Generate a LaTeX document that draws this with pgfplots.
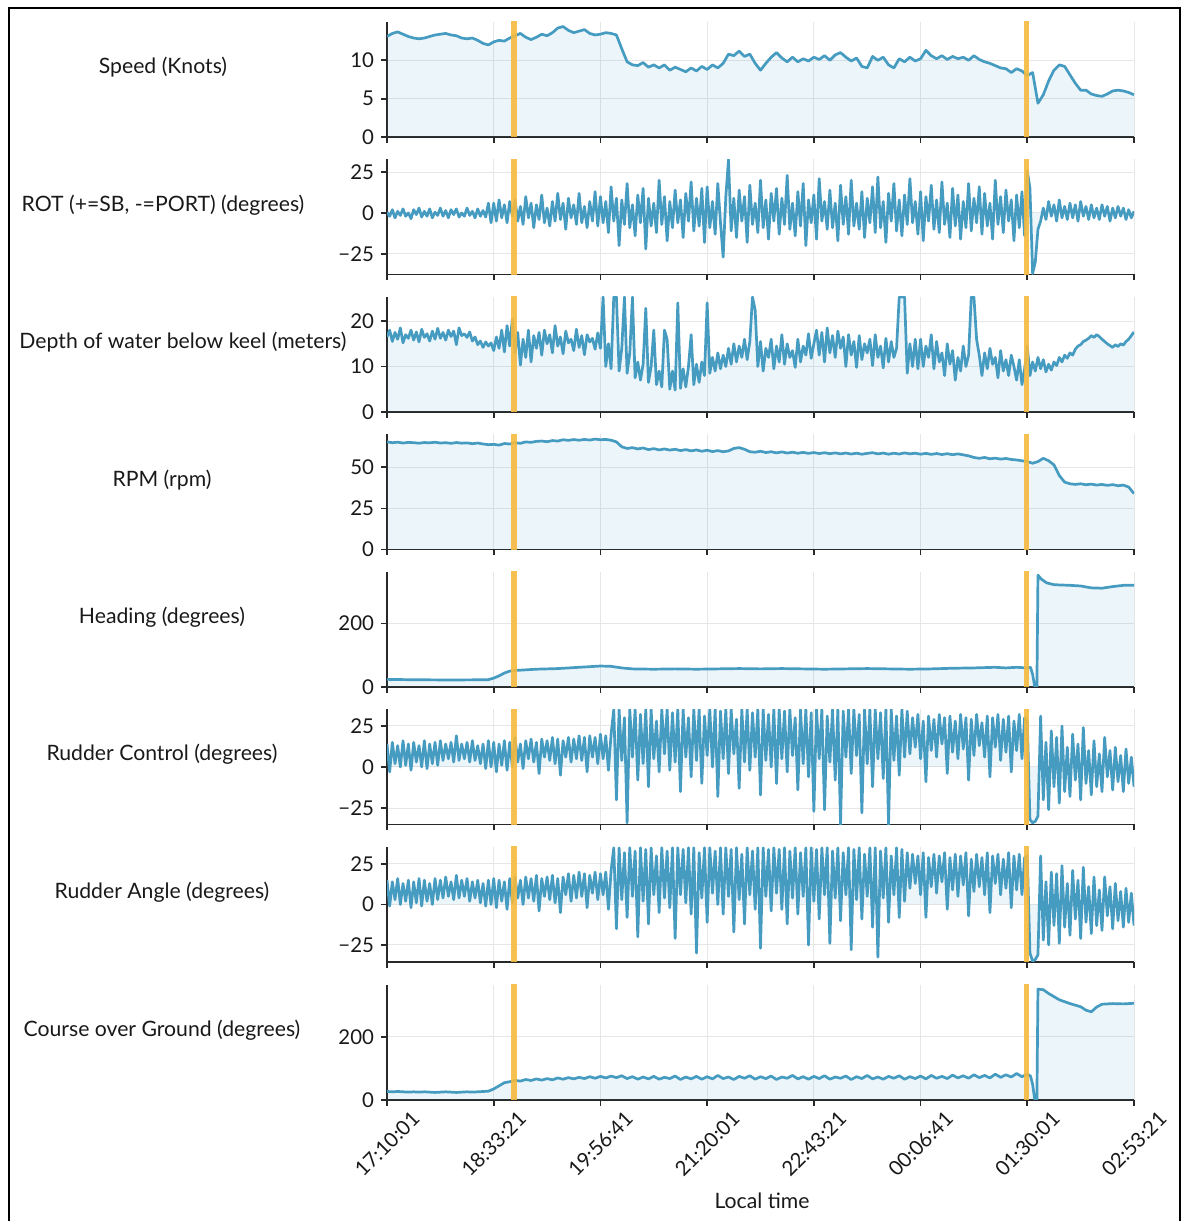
\documentclass[border=0pt]{standalone}
\usepackage{fontspec}
\setmainfont{Lato}
\usepackage{pgfplots}
\usepackage{pgfplotstable}
\pgfplotsset{compat=1.18}
\definecolor{linecol}{RGB}{70,155,192}
\definecolor{orangecol}{RGB}{246,186,62}
\definecolor{gridcol}{RGB}{230,230,230}
\definecolor{axcol}{RGB}{40,40,40}
\definecolor{txtcol}{RGB}{25,25,25}
\pgfplotsset{
 panel/.style={
  scale only axis, width=373.5pt, height=57.5pt,
  anchor=south west,
  xmin=0, xmax=7, xtick={0,1,2,3,4,5,6,7},
  axis x line*=bottom, axis y line*=left,
  axis line style={draw=axcol, line width=0.9pt},
  tick align=outside, major tick length=3pt,
  every tick/.style={draw=axcol, line width=0.9pt},
  grid=major, grid style={draw=gridcol, line width=0.5pt},
  xticklabels={},
  /pgf/number format/assume math mode=true,
  tick label style={font=\fontsize{10.2}{12}\selectfont, text=txtcol},
 },
 fillp/.style={fill=linecol, fill opacity=0.1, draw=none, mark=none},
 linep/.style={draw=linecol, line width=1.35pt, mark=none, line join=round},
 orangep/.style={draw=orangecol, line width=2.6pt, opacity=0.9, mark=none},
}
\begin{document}
\pgfplotstableread[row sep=\\]{v\\
13.1\\13.5\\13.7\\13.4\\13.1\\12.9\\12.8\\12.9\\13.1\\13.3\\13.4\\13.5\\13.3\\13.2\\12.9\\12.8\\12.9\\12.6\\12.2\\12.0\\
12.4\\12.6\\12.5\\12.9\\13.2\\13.5\\13.0\\12.7\\13.0\\13.4\\13.2\\13.6\\14.2\\14.4\\13.9\\13.6\\13.8\\14.0\\13.5\\13.3\\
13.4\\13.6\\13.5\\13.3\\11.5\\9.8\\9.4\\9.3\\9.7\\9.1\\9.4\\9.0\\9.4\\8.7\\9.1\\8.8\\8.5\\9.0\\8.6\\9.2\\
8.8\\9.4\\9.0\\9.6\\10.8\\10.6\\11.2\\10.5\\10.8\\9.6\\8.7\\9.6\\10.4\\11.0\\10.3\\9.8\\10.4\\9.8\\10.2\\9.9\\
10.4\\10.1\\10.6\\10.0\\10.7\\11.0\\10.4\\9.9\\10.3\\9.2\\9.0\\10.5\\10.0\\10.4\\9.4\\9.0\\10.2\\9.8\\10.4\\9.9\\
10.2\\11.3\\10.6\\10.2\\10.6\\10.1\\10.5\\10.2\\10.4\\10.0\\10.6\\10.1\\9.8\\9.6\\9.3\\9.0\\8.9\\8.4\\8.9\\8.6\\
8.0\\8.4\\4.4\\5.5\\7.3\\8.7\\9.4\\9.2\\8.1\\7.0\\6.1\\6.1\\5.6\\5.4\\5.3\\5.6\\6.0\\6.1\\6.0\\5.8\\5.5\\
}\speed
\pgfplotstableread[row sep=\\]{v\\
0.5\\-2\\2\\-3\\1\\-1.5\\2.5\\-2\\0\\-3.5\\2\\-1\\3\\-2.5\\1\\-2\\2.5\\-3\\0.5\\-1.5\\
3\\-2\\1.5\\-3\\2\\-1\\2.5\\-2.5\\0\\-2\\3\\-1.5\\1\\-3\\2.5\\-2\\1.5\\-2.5\\6\\-6\\
6\\-5\\8\\-3\\5\\-6\\7\\-2\\
8\\-5\\4\\-7\\10\\-3\\6\\-9\\5\\-4\\11\\-6\\3\\-8\\7\\-5\\12\\-4\\6\\-10\\9\\-3\\5\\-7\\12\\-6\\4\\-9\\7\\-5\\13\\-8\\
10\\-6\\7\\-12\\16\\-5\\9\\-20\\8\\-7\\18\\-9\\5\\-14\\11\\-6\\15\\-22\\9\\-8\\
6\\-12\\20\\-7\\10\\-17\\7\\-9\\14\\-6\\8\\-15\\12\\-5\\19\\-11\\9\\-8\\15\\-18\\
16\\-9\\7\\-13\\18\\-6\\-27\\10\\32.7\\-11\\9\\-15\\14\\-5\\10\\-18\\17\\-7\\6\\-12\\
20\\-9\\8\\-16\\12\\-5\\15\\-13\\9\\-7\\23\\-10\\6\\-14\\13\\-8\\18\\-20\\8\\-6\\
11\\-16\\21\\-5\\7\\-10\\14\\-9\\6\\-17\\17\\-7\\10\\-13\\20\\-8\\6\\-10\\13\\-15\\
9\\-6\\16\\-12\\22\\-9\\7\\-18\\12\\-5\\18\\-11\\8\\-14\\11\\-7\\21\\-6\\7\\-13\\
13\\-17\\10\\-5\\17\\-10\\8\\-12\\19\\-7\\6\\-15\\15\\-8\\11\\-16\\7\\-9\\18\\-11\\
9\\-6\\16\\-13\\12\\-8\\6\\-16\\20\\-7\\10\\-12\\14\\-5\\8\\-17\\11\\-9\\13\\-14\\
26\\15\\-37\\-30\\-10\\-5\\
3\\-4\\7\\-2\\5\\-5\\8\\-3\\4\\-4\\6\\-3\\5\\-5\\7\\-2\\4\\-4\\5\\-3\\
3\\-4\\5\\-2\\4\\-5\\3\\-3\\4\\-2\\3\\-4\\2\\-3\\1\\
}\rot
\pgfplotstableread[row sep=\\]{v\\
16.5\\18\\15.5\\17.5\\16\\18.5\\15.2\\17\\16.2\\18\\15.8\\17.6\\15.4\\18.2\\16.4\\17.2\\15.6\\17.8\\16\\18.4\\
16.2\\17.5\\15.8\\18\\16.6\\17.8\\14.8\\18.5\\16.8\\17.2\\16.4\\17.6\\15.6\\16.5\\14.8\\15.6\\14.2\\15.4\\14.5\\15.2\\
13.5\\16.5\\14\\18\\13.2\\19\\14.5\\20.5\\13\\17.5\\10.3\\16\\12\\18\\11\\16.8\\
14\\17.5\\12.5\\18\\15\\17\\13\\19\\14.5\\16.5\\12.8\\17.8\\15.2\\16\\13.5\\18.2\\14.2\\16.8\\12.6\\17\\15.4\\16.2\\13.8\\17.4\\
14\\25.3\\10\\15\\9.5\\25.3\\25.3\\9\\14\\25.3\\8.5\\13\\25.3\\7.5\\11\\7\\10.5\\22.8\\6.5\\10\\
18\\6\\9\\5.5\\18\\16\\5\\9\\4.8\\24\\5.2\\9.5\\5.5\\10\\17\\6\\10.5\\6.5\\11\\8\\
24\\8.5\\12\\9\\13\\9.5\\12.5\\10\\14\\10.5\\15\\11\\14.5\\12\\16\\11.5\\15.5\\25.3\\22.4\\10\\
15.5\\9\\14\\12\\16\\9.5\\14.5\\11\\17\\10.5\\15\\12\\13.5\\9.8\\16\\11\\14.5\\12.5\\17.2\\11.8\\
15\\18\\12.5\\17.5\\11\\18.5\\13\\16.8\\12\\17.8\\14\\16.5\\10\\17\\12.5\\15.5\\9.8\\16.8\\11.5\\15\\
13\\16\\10.2\\17\\12\\14.5\\9.7\\16.2\\11\\15.5\\12\\14\\25.3\\25.3\\25.3\\8.5\\15\\10\\16\\9.5\\
16\\10\\14.5\\12\\17\\9.5\\15.5\\11\\13\\8\\15\\10.5\\13.5\\7\\12\\9\\14.5\\10\\12.5\\25.3\\
25.3\\16\\12.5\\8\\13\\9.5\\14\\10.5\\12\\7.5\\13.5\\9\\11.5\\8\\12.5\\10\\7\\11.5\\6\\9.5\\
14.5\\8\\11\\9\\12\\9.5\\11.5\\8.8\\10.5\\9.2\\11\\10.2\\12\\11\\12.5\\11.8\\13\\12.5\\13.8\\14.5\\
14.8\\15.5\\15.8\\16.2\\16.8\\16.4\\17\\16.6\\16\\15.5\\15\\14.6\\14.2\\14.8\\14.4\\15\\14.7\\15.5\\16\\16.8\\
17.6\\
}\depth
\pgfplotstableread[row sep=\\]{v\\
65.5\\65\\65.3\\64.8\\65.2\\65\\64.7\\65.1\\64.9\\65.3\\64.8\\65\\64.6\\65.1\\64.7\\64.9\\64.4\\64.8\\64.2\\63.8\\
64\\63.5\\64.5\\64.2\\65\\64.6\\65.5\\65.2\\65.8\\66\\65.6\\66.3\\66\\66.8\\66.4\\66.9\\66.5\\67\\66.6\\67.2\\
66.8\\67\\66.5\\65.5\\62.5\\61.5\\62\\61.2\\61.8\\60.8\\61.4\\60.6\\61.2\\60.5\\61\\60.2\\60.8\\60\\60.6\\59.8\\
60.4\\59.6\\60.2\\59.5\\60\\61.5\\62\\61\\59.5\\59.2\\59.8\\59\\59.5\\58.8\\59.4\\58.7\\59.2\\58.6\\59.1\\58.5\\
59\\58.4\\58.9\\58.3\\58.8\\58.2\\58.7\\58.1\\58.6\\58\\58.5\\58.9\\58.2\\58.7\\58\\58.6\\58.1\\58.8\\58.2\\58.6\\
58\\58.5\\57.9\\58.4\\57.8\\58.3\\57.7\\58.2\\57.6\\57\\56\\55.5\\56\\55.2\\55.6\\55\\55.4\\54.8\\54.5\\54\\
53.5\\52.5\\53.5\\55.5\\54\\51.5\\45\\41\\40\\39.6\\40\\39.4\\39.8\\39.2\\39.6\\39\\39.5\\38.8\\39.2\\38\\34\\
}\rpm
\pgfplotstableread[row sep=\\]{v\\
14\\-3\\15\\2\\13\\0\\16\\1\\14\\-2\\15\\3\\13\\0\\16\\-1\\14\\2\\15\\1\\
16\\4\\14\\5\\15\\3\\19\\4\\14\\5\\15\\3\\16\\4\\13\\2\\14\\-1\\16\\0\\
15\\-3\\14\\1\\16\\-2\\15\\0\\18\\3\\14\\-1\\
16\\5\\17\\3\\15\\-4\\17\\6\\16\\4\\18\\2\\17\\-5\\16\\6\\18\\3\\17\\5\\
19\\4\\18\\-3\\19\\6\\18\\2\\20\\5\\19\\-2\\20\\
35\\-20\\35\\4\\30\\-34\\35\\6\\35\\-8\\32\\2\\35\\-12\\35\\5\\28\\-3\\35\\8\\
35\\-2\\33\\3\\35\\-15\\35\\6\\30\\-6\\35\\4\\35\\-10\\31\\7\\35\\0\\35\\-18\\
34\\5\\35\\-4\\35\\8\\29\\-13\\35\\3\\35\\-2\\33\\6\\35\\-17\\35\\4\\32\\0\\
35\\-10\\35\\5\\34\\-3\\35\\7\\30\\-14\\35\\2\\35\\-6\\33\\-27\\35\\5\\35\\-26\\
31\\3\\35\\-8\\35\\-35\\34\\6\\35\\-4\\35\\7\\32\\-28\\35\\2\\35\\-12\\35\\5\\
33\\-7\\35\\-35\\35\\4\\31\\-5\\35\\6\\34\\
8\\30\\12\\32\\5\\28\\-9\\31\\10\\29\\6\\32\\14\\30\\-4\\31\\9\\28\\5\\32\\
11\\30\\-8\\29\\7\\32\\13\\27\\6\\31\\-6\\30\\12\\32\\4\\29\\9\\31\\-3\\28\\
10\\32\\5\\30\\
28\\-32\\-34\\-33\\-30\\31\\
-20\\15\\-26\\22\\-12\\18\\-22\\25\\-15\\12\\-18\\20\\-8\\14\\-20\\24\\-10\\10\\-17\\16\\
-12\\8\\-15\\18\\-6\\10\\-14\\12\\-9\\7\\-15\\11\\-10\\6\\-12\\
}\rudc
\pgfplotstableread[row sep=\\]{v\\
15\\-1\\14\\3\\16\\0\\13\\2\\15\\-2\\14\\1\\16\\-1\\15\\2\\13\\0\\16\\3\\
15\\4\\17\\5\\14\\3\\18\\4\\15\\5\\16\\2\\14\\4\\15\\1\\13\\-1\\15\\0\\
16\\-2\\15\\2\\14\\-3\\16\\1\\17\\4\\15\\0\\
17\\4\\16\\2\\18\\-4\\16\\5\\17\\3\\18\\1\\16\\-5\\17\\6\\19\\2\\18\\4\\
20\\5\\19\\-2\\18\\7\\20\\3\\19\\6\\20\\-3\\21\\
35\\-15\\35\\3\\32\\-8\\35\\5\\33\\-20\\35\\2\\34\\-12\\35\\6\\30\\-5\\35\\4\\
33\\-2\\35\\-21\\35\\6\\34\\1\\35\\-6\\35\\-30\\32\\4\\35\\-11\\35\\7\\33\\0\\
35\\-6\\35\\5\\34\\-17\\35\\3\\31\\-12\\35\\6\\33\\-3\\35\\-27\\35\\5\\34\\-4\\
35\\7\\34\\-3\\35\\-12\\33\\4\\35\\-6\\32\\5\\35\\-25\\35\\2\\34\\-9\\35\\6\\
35\\-24\\33\\4\\35\\-10\\32\\6\\35\\-28\\34\\3\\35\\-9\\31\\5\\35\\-14\\35\\-32.5\\
33\\4\\35\\-11\\30\\6\\35\\-8\\34\\2\\32\\
10\\31\\13\\30\\6\\32\\-8\\29\\11\\31\\7\\30\\14\\32\\-3\\29\\9\\31\\5\\30\\
12\\32\\-7\\28\\8\\31\\11\\29\\6\\32\\-5\\30\\13\\31\\6\\28\\10\\32\\-2\\30\\
9\\31\\6\\29\\
30\\-30\\-35\\-34\\-31\\30\\
-22\\14\\-25\\20\\-13\\19\\-24\\24\\-14\\13\\-19\\21\\-9\\15\\-21\\23\\-11\\11\\-18\\17\\
-13\\9\\-16\\17\\-7\\11\\-15\\13\\-10\\8\\-14\\10\\-11\\7\\-13\\
}\ruda
\begin{tikzpicture}
\useasboundingbox (0,0) rectangle (591pt,610.5pt);
\draw[black, line width=1pt] (4.5pt,-2pt) -- (4.5pt,606.5pt) -- (590pt,606.5pt) -- (590pt,-2pt);
\tikzset{lab/.style={font=\fontsize{10.6}{12}\selectfont, text=txtcol, anchor=center, inner sep=0pt}}
\node[lab] at (81.5pt,577pt) {Speed (Knots)};
\node[lab] at (81.5pt,508pt) {ROT (+=SB, -=PORT) (degrees)};
\node[lab] at (91.5pt,439.5pt) {Depth of water below keel (meters)};
\node[lab] at (81pt,370.5pt) {RPM (rpm)};
\node[lab] at (81pt,302pt) {Heading (degrees)};
\node[lab] at (81pt,233.5pt) {Rudder Control (degrees)};
\node[lab] at (81pt,164.5pt) {Rudder Angle (degrees)};
\node[lab] at (81pt,95.5pt) {Course over Ground (degrees)};
\node[lab] at (381pt,10pt) {Local time};
% 1 Speed
\begin{axis}[panel, at={(193.5pt,542pt)}, ymin=0, ymax=15, ytick={0,5,10}]
\addplot[fillp] table[x expr=\coordindex*0.05, y=v]{\speed} \closedcycle;
\addplot[linep] table[x expr=\coordindex*0.05, y=v]{\speed};
\addplot[orangep] coordinates {(1.19,-500) (1.19,500)};
\addplot[orangep] coordinates {(5.99,-500) (5.99,500)};
\end{axis}
% 2 ROT
\begin{axis}[panel, at={(193.5pt,473.25pt)}, ymin=-37.6, ymax=32.7, ytick={-25,0,25}, yticklabels={−25,0,25}]
\addplot[fillp] table[x expr=\coordindex*0.025, y=v]{\rot} \closedcycle;
\addplot[linep] table[x expr=\coordindex*0.025, y=v]{\rot};
\addplot[orangep] coordinates {(1.19,-500) (1.19,500)};
\addplot[orangep] coordinates {(5.99,-500) (5.99,500)};
\end{axis}
% 3 Depth
\begin{axis}[panel, at={(193.5pt,404.5pt)}, ymin=0, ymax=25.3, ytick={0,10,20}]
\addplot[fillp] table[x expr=\coordindex*0.025, y=v]{\depth} \closedcycle;
\addplot[linep] table[x expr=\coordindex*0.025, y=v]{\depth};
\addplot[orangep] coordinates {(1.19,-500) (1.19,500)};
\addplot[orangep] coordinates {(5.99,-500) (5.99,500)};
\end{axis}
% 4 RPM
\begin{axis}[panel, at={(193.5pt,335.75pt)}, ymin=0, ymax=70, ytick={0,25,50}]
\addplot[fillp] table[x expr=\coordindex*0.05, y=v]{\rpm} \closedcycle;
\addplot[linep] table[x expr=\coordindex*0.05, y=v]{\rpm};
\addplot[orangep] coordinates {(1.19,-500) (1.19,500)};
\addplot[orangep] coordinates {(5.99,-500) (5.99,500)};
\end{axis}
% 5 Heading
\begin{axis}[panel, at={(193.5pt,267pt)}, ymin=0, ymax=362, ytick={0,200}]
\addplot[fillp] coordinates {(0,24)(0.2,23)(0.4,22.5)(0.6,22)(0.8,22.5)(0.95,23)(1.0,28)(1.05,35)(1.1,44)(1.15,50)(1.2,52)(1.3,54)(1.4,56)(1.5,57)(1.6,58)(1.7,60)(1.8,62)(1.9,64)(2.0,66)(2.1,65)(2.2,60)(2.3,57)(2.5,56)(2.7,57)(2.9,56)(3.1,57)(3.3,58)(3.5,57)(3.7,58)(3.9,57)(4.1,56)(4.3,57)(4.5,58)(4.7,57)(4.9,56)(5.1,57)(5.3,59)(5.5,60)(5.7,62)(5.8,60)(5.9,62)(6.0,60)(6.03,62)(6.05,40)(6.07,0)(6.09,2)(6.1,352)(6.13,340)(6.18,328)(6.25,322)(6.4,320)(6.5,318)(6.6,312)(6.7,311)(6.8,316)(6.9,320)(7.0,320)} \closedcycle;
\addplot[linep] coordinates {(0,24)(0.2,23)(0.4,22.5)(0.6,22)(0.8,22.5)(0.95,23)(1.0,28)(1.05,35)(1.1,44)(1.15,50)(1.2,52)(1.3,54)(1.4,56)(1.5,57)(1.6,58)(1.7,60)(1.8,62)(1.9,64)(2.0,66)(2.1,65)(2.2,60)(2.3,57)(2.5,56)(2.7,57)(2.9,56)(3.1,57)(3.3,58)(3.5,57)(3.7,58)(3.9,57)(4.1,56)(4.3,57)(4.5,58)(4.7,57)(4.9,56)(5.1,57)(5.3,59)(5.5,60)(5.7,62)(5.8,60)(5.9,62)(6.0,60)(6.03,62)(6.05,40)(6.07,0)(6.09,2)(6.1,352)(6.13,340)(6.18,328)(6.25,322)(6.4,320)(6.5,318)(6.6,312)(6.7,311)(6.8,316)(6.9,320)(7.0,320)};
\addplot[orangep] coordinates {(1.19,-500) (1.19,500)};
\addplot[orangep] coordinates {(5.99,-500) (5.99,500)};
\end{axis}
% 6 Rudder control
\begin{axis}[panel, at={(193.5pt,198.25pt)}, ymin=-35, ymax=35, ytick={-25,0,25}, yticklabels={−25,0,25}]
\addplot[fillp] table[x expr=\coordindex*0.025, y=v]{\rudc} \closedcycle;
\addplot[linep] table[x expr=\coordindex*0.025, y=v]{\rudc};
\addplot[orangep] coordinates {(1.19,-500) (1.19,500)};
\addplot[orangep] coordinates {(5.99,-500) (5.99,500)};
\end{axis}
% 7 Rudder angle
\begin{axis}[panel, at={(193.5pt,129.5pt)}, ymin=-35.5, ymax=35.5, ytick={-25,0,25}, yticklabels={−25,0,25}]
\addplot[fillp] table[x expr=\coordindex*0.025, y=v]{\ruda} \closedcycle;
\addplot[linep] table[x expr=\coordindex*0.025, y=v]{\ruda};
\addplot[orangep] coordinates {(1.19,-500) (1.19,500)};
\addplot[orangep] coordinates {(5.99,-500) (5.99,500)};
\end{axis}
% 8 COG
\begin{axis}[panel, at={(193.5pt,60.5pt)}, ymin=0, ymax=365, ytick={0,200},
  xticklabels={17:10:01,18:33:21,19:56:41,21:20:01,22:43:21,00:06:41,01:30:01,02:53:21},
  xticklabel style={anchor=center, yshift=-19pt, rotate=45}]
\addplot[fillp] coordinates {(0,27)(0.05,26)(0.1,27)(0.15,26)(0.2,25)(0.25,26)(0.3,25)(0.35,26)(0.4,25)(0.45,24)(0.5,25)(0.55,26)(0.6,25)(0.65,24)(0.7,25)(0.75,26)(0.8,25)(0.85,26)(0.9,27)(0.95,28)(1.0,35)(1.05,45)(1.1,55)(1.15,58)(1.2,62)(1.25,60)(1.3,65)(1.35,62)(1.4,67)(1.45,63)(1.5,68)(1.55,64)(1.6,70)(1.65,66)(1.7,71)(1.75,67)(1.8,72)(1.85,68)(1.9,74)(1.95,69)(2.0,75)(2.05,70)(2.1,76)(2.15,71)(2.2,77)(2.25,68)(2.3,74)(2.35,66)(2.4,73)(2.45,67)(2.5,75)(2.55,66)(2.6,72)(2.65,68)(2.7,76)(2.75,65)(2.8,73)(2.85,67)(2.9,75)(2.95,66)(3.0,74)(3.05,67)(3.1,78)(3.15,68)(3.2,73)(3.25,65)(3.3,75)(3.35,69)(3.4,77)(3.45,66)(3.5,74)(3.55,68)(3.6,76)(3.65,65)(3.7,73)(3.75,69)(3.8,78)(3.85,67)(3.9,74)(3.95,66)(4.0,75)(4.05,68)(4.1,77)(4.15,66)(4.2,73)(4.25,69)(4.3,76)(4.35,65)(4.4,74)(4.45,68)(4.5,78)(4.55,67)(4.6,73)(4.65,66)(4.7,75)(4.75,69)(4.8,77)(4.85,66)(4.9,74)(4.95,68)(5.0,76)(5.05,67)(5.1,78)(5.15,69)(5.2,75)(5.25,68)(5.3,79)(5.35,70)(5.4,77)(5.45,69)(5.5,80)(5.55,71)(5.6,78)(5.65,70)(5.7,82)(5.75,72)(5.8,80)(5.85,73)(5.9,84)(5.95,74)(6.0,82)(6.03,76)(6.05,50)(6.07,0)(6.09,3)(6.1,352)(6.15,350)(6.2,338)(6.3,318)(6.4,306)(6.5,296)(6.55,285)(6.6,280)(6.65,295)(6.7,304)(6.8,306)(6.9,305)(7.0,307)} \closedcycle;
\addplot[linep] coordinates {(0,27)(0.05,26)(0.1,27)(0.15,26)(0.2,25)(0.25,26)(0.3,25)(0.35,26)(0.4,25)(0.45,24)(0.5,25)(0.55,26)(0.6,25)(0.65,24)(0.7,25)(0.75,26)(0.8,25)(0.85,26)(0.9,27)(0.95,28)(1.0,35)(1.05,45)(1.1,55)(1.15,58)(1.2,62)(1.25,60)(1.3,65)(1.35,62)(1.4,67)(1.45,63)(1.5,68)(1.55,64)(1.6,70)(1.65,66)(1.7,71)(1.75,67)(1.8,72)(1.85,68)(1.9,74)(1.95,69)(2.0,75)(2.05,70)(2.1,76)(2.15,71)(2.2,77)(2.25,68)(2.3,74)(2.35,66)(2.4,73)(2.45,67)(2.5,75)(2.55,66)(2.6,72)(2.65,68)(2.7,76)(2.75,65)(2.8,73)(2.85,67)(2.9,75)(2.95,66)(3.0,74)(3.05,67)(3.1,78)(3.15,68)(3.2,73)(3.25,65)(3.3,75)(3.35,69)(3.4,77)(3.45,66)(3.5,74)(3.55,68)(3.6,76)(3.65,65)(3.7,73)(3.75,69)(3.8,78)(3.85,67)(3.9,74)(3.95,66)(4.0,75)(4.05,68)(4.1,77)(4.15,66)(4.2,73)(4.25,69)(4.3,76)(4.35,65)(4.4,74)(4.45,68)(4.5,78)(4.55,67)(4.6,73)(4.65,66)(4.7,75)(4.75,69)(4.8,77)(4.85,66)(4.9,74)(4.95,68)(5.0,76)(5.05,67)(5.1,78)(5.15,69)(5.2,75)(5.25,68)(5.3,79)(5.35,70)(5.4,77)(5.45,69)(5.5,80)(5.55,71)(5.6,78)(5.65,70)(5.7,82)(5.75,72)(5.8,80)(5.85,73)(5.9,84)(5.95,74)(6.0,82)(6.03,76)(6.05,50)(6.07,0)(6.09,3)(6.1,352)(6.15,350)(6.2,338)(6.3,318)(6.4,306)(6.5,296)(6.55,285)(6.6,280)(6.65,295)(6.7,304)(6.8,306)(6.9,305)(7.0,307)};
\addplot[orangep] coordinates {(1.19,-500) (1.19,500)};
\addplot[orangep] coordinates {(5.99,-500) (5.99,500)};
\end{axis}
\end{tikzpicture}
\end{document}
